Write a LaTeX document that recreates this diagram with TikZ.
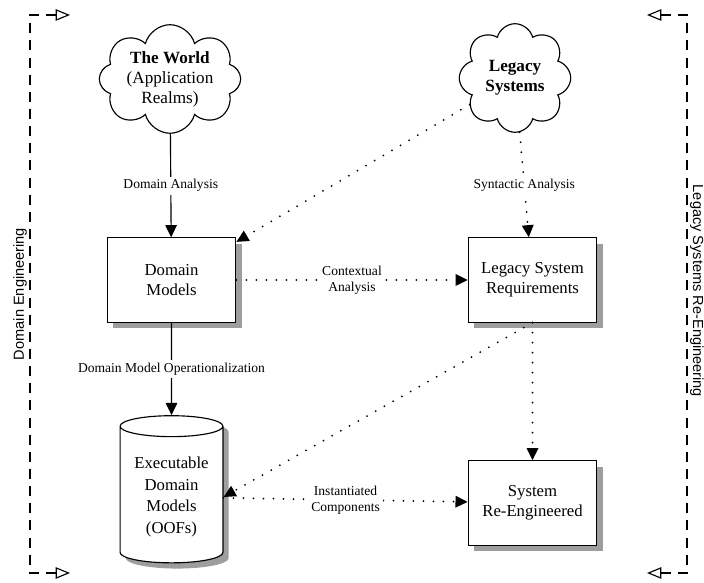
\documentclass[tikz,border=0pt]{standalone}
\usepackage{fontspec}
\setmainfont{Liberation Serif}
\setsansfont{Liberation Sans}
\usetikzlibrary{positioning,shapes.symbols,shapes.geometric,shadows,arrows.meta}

\begin{document}
\begin{tikzpicture}[x=0.7pt, y=-0.7pt,
		shade/.style={drop shadow={shadow xshift=4pt, shadow yshift=-4pt, fill=black!38, opacity=1}},
		box/.style={rectangle, draw, thick, fill=white, shade, minimum width=90pt, minimum height=59pt, align=center, font=\fontsize{11.7}{14}\selectfont},
		cld/.style={cloud, draw, thick, fill=white, cloud puffs=8, cloud ignores aspect, align=center, inner sep=0pt, font=\fontsize{12}{14}\selectfont},
		store/.style={cylinder, shape border rotate=90, draw, thick, fill=white, shade, aspect=0.25, minimum width=72pt, minimum height=103pt, align=center, font=\fontsize{11.7}{15}\selectfont},
		lbl/.style={fill=white, inner sep=2pt, align=center, font=\fontsize{9.5}{11}\selectfont},
		dots/.style={line width=1.4pt, dash pattern=on 0pt off 7pt, line cap=round},
		tip/.style={-{Triangle[length=8.5pt, width=8pt]}},
		side/.style={line width=0.8pt, dash pattern=on 7pt off 5pt, {Triangle[open, length=10pt, width=8pt]}-{Triangle[open, length=10pt, width=8pt]}},
		sidetext/.style={font=\sffamily\fontsize{10.2}{12}\selectfont}]
		\useasboundingbox (0,0) rectangle (704,583);

		% the two sources
		\node [cld, minimum width=99pt, minimum height=76pt] (world) at (170,79) {\textbf{The World}\\(Application\\Realms)};
		\node [cld, minimum width=78pt, minimum height=76pt] (legacy) at (515,78) {\textbf{Legacy}\\\textbf{Systems}};

		% models and results
		\node [box] (dm) at (171.5,280) {Domain\\Models};
		\node [box] (req) at (532.5,280) {Legacy System\\Requirements};
		\node [store] (oofs) at (171.5,497) {Executable\\Domain\\Models\\(OOFs)};
		\node [box] (sre) at (532.5,503) {System\\Re-Engineered};

		% the two activities at the sides
		\coordinate (l1) at (30,15);
		\coordinate (l2) at (30,573);
		\coordinate (lt1) at (70,15);
		\coordinate (lt2) at (70,573);
		\coordinate (r1) at (687,15);
		\coordinate (r2) at (687,573);
		\coordinate (rt1) at (647,15);
		\coordinate (rt2) at (647,573);
		\draw [side] (lt1) -- (l1) -- (l2) -- (lt2);
		\draw [side] (rt1) -- (r1) -- (r2) -- (rt2);
		\node [sidetext, rotate=90] (deng) at (20,294) {Domain Engineering};
		\node [sidetext, rotate=-90] (leng) at (697,291) {Legacy Systems Re-Engineering};

		\path[tip, thick] (world) edge node [lbl] {Domain Analysis} (dm);
		\path[tip, thick] (dm) edge node [lbl] {Domain Model Operationalization} (oofs);
		\path[tip, dots] (legacy) edge node [lbl] {Syntactic Analysis} (req);
		\path[tip, dots] (legacy) edge (dm);
		\path[tip, dots] (dm) edge node [lbl] {Contextual\\Analysis} (req);
		\path[tip, dots] (req.south) edge (oofs.east);
		\path[tip, dots] (req) edge (sre);
		\path[tip, dots] (oofs) edge node [lbl] {Instantiated\\Components} (sre);
	\end{tikzpicture}
\end{document}
